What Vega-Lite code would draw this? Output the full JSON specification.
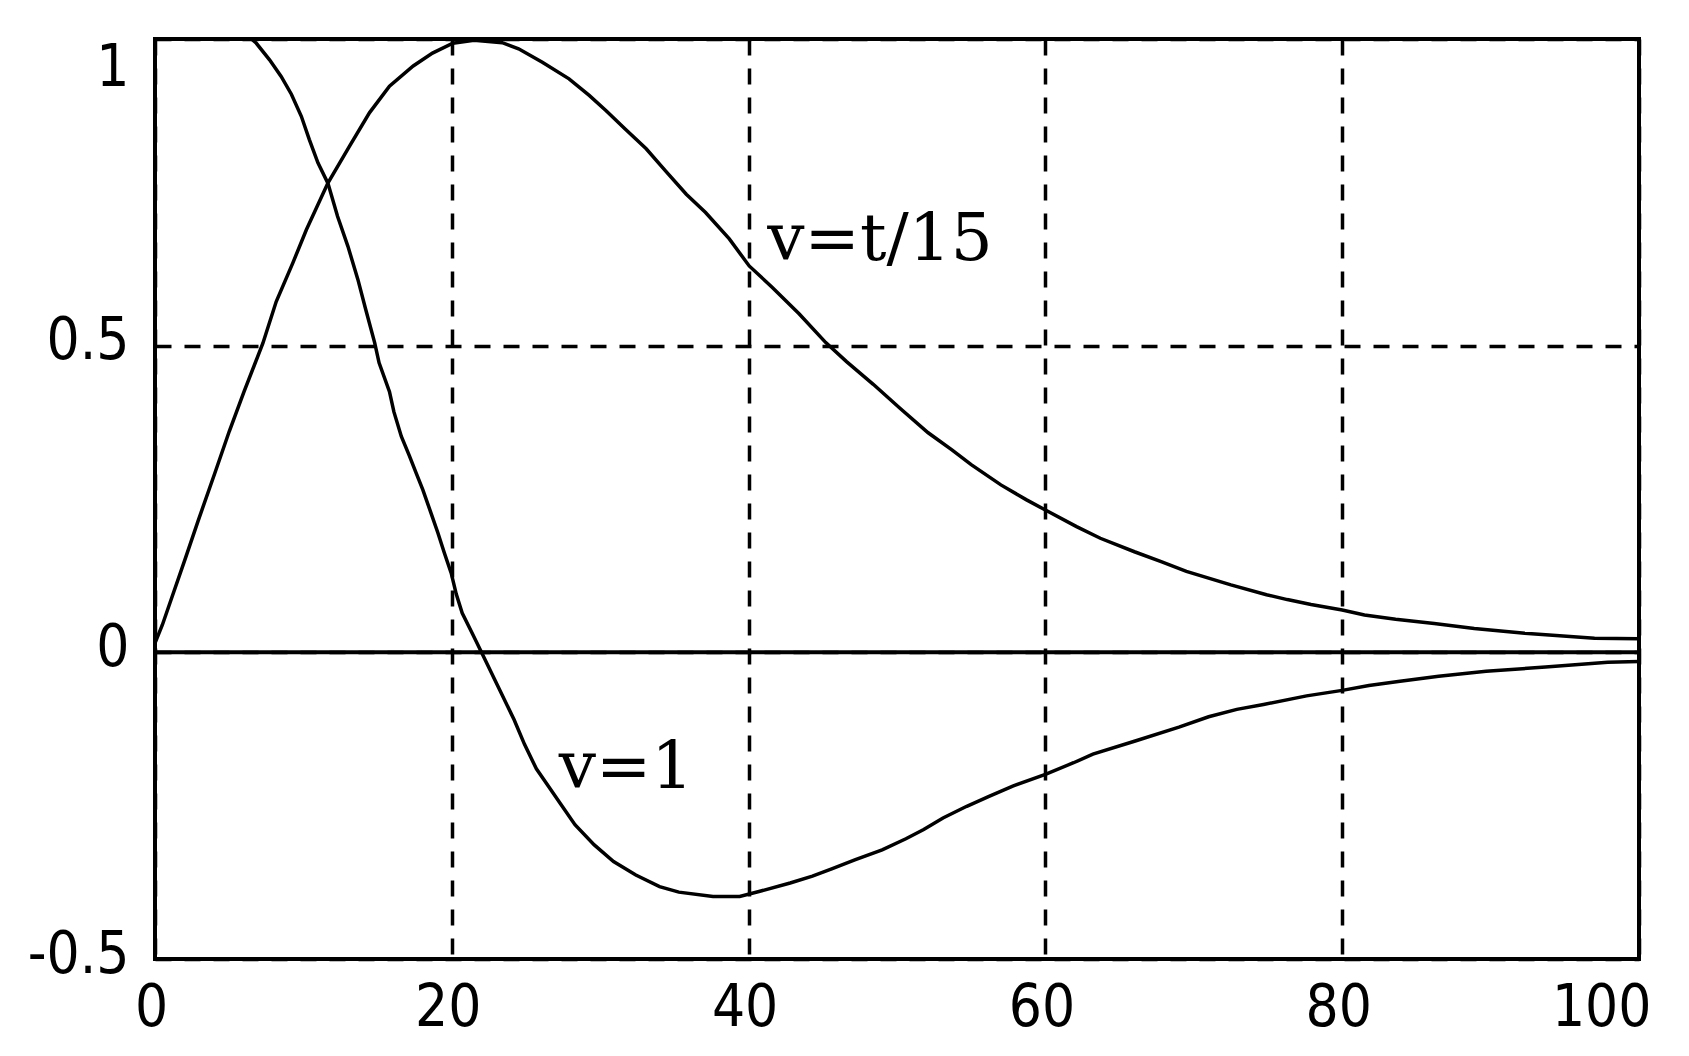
{
  "$schema": "https://vega.github.io/schema/vega-lite/v6.json",
  "width": 1484,
  "height": 920,
  "autosize": {"type": "none"},
  "padding": {"left": 155, "top": 39, "right": 50, "bottom": 97},
  "background": "white",
  "config": {
    "view": {"stroke": "black", "strokeWidth": 4},
    "axis": {
      "domain": false,
      "ticks": false,
      "grid": true,
      "gridColor": "black",
      "gridOpacity": 1,
      "gridWidth": 3.5,
      "gridDash": [16, 13],
      "labelFont": "Liberation Sans Narrow, DejaVu Sans Condensed, Liberation Sans",
      "labelFontSize": 58,
      "labelColor": "black",
      "labelExpr": "'' + datum.value",
      "title": null
    }
  },
  "datasets": {
    "curves": [
      {"series": "v=t/15", "t": 0, "v": 0.015},
      {"series": "v=t/15", "t": 0.5, "v": 0.045},
      {"series": "v=t/15", "t": 1, "v": 0.08},
      {"series": "v=t/15", "t": 2, "v": 0.15},
      {"series": "v=t/15", "t": 2.9, "v": 0.214},
      {"series": "v=t/15", "t": 4, "v": 0.29},
      {"series": "v=t/15", "t": 5, "v": 0.36},
      {"series": "v=t/15", "t": 6, "v": 0.425},
      {"series": "v=t/15", "t": 7.27, "v": 0.504},
      {"series": "v=t/15", "t": 8.17, "v": 0.572},
      {"series": "v=t/15", "t": 9.29, "v": 0.635},
      {"series": "v=t/15", "t": 10.2, "v": 0.689},
      {"series": "v=t/15", "t": 11.65, "v": 0.765},
      {"series": "v=t/15", "t": 13.1, "v": 0.825},
      {"series": "v=t/15", "t": 14.46, "v": 0.88},
      {"series": "v=t/15", "t": 15.8, "v": 0.923},
      {"series": "v=t/15", "t": 17.4, "v": 0.956},
      {"series": "v=t/15", "t": 18.7, "v": 0.977},
      {"series": "v=t/15", "t": 20.07, "v": 0.993},
      {"series": "v=t/15", "t": 21.5, "v": 0.998},
      {"series": "v=t/15", "t": 23.4, "v": 0.994},
      {"series": "v=t/15", "t": 24.5, "v": 0.984},
      {"series": "v=t/15", "t": 26.1, "v": 0.962},
      {"series": "v=t/15", "t": 27.9, "v": 0.935},
      {"series": "v=t/15", "t": 29.26, "v": 0.908},
      {"series": "v=t/15", "t": 30.4, "v": 0.883},
      {"series": "v=t/15", "t": 31.7, "v": 0.853},
      {"series": "v=t/15", "t": 33.1, "v": 0.821},
      {"series": "v=t/15", "t": 34.4, "v": 0.785},
      {"series": "v=t/15", "t": 35.8, "v": 0.747},
      {"series": "v=t/15", "t": 37.1, "v": 0.717},
      {"series": "v=t/15", "t": 38.7, "v": 0.674},
      {"series": "v=t/15", "t": 40.04, "v": 0.63},
      {"series": "v=t/15", "t": 41.6, "v": 0.595},
      {"series": "v=t/15", "t": 43.4, "v": 0.552},
      {"series": "v=t/15", "t": 45.2, "v": 0.505},
      {"series": "v=t/15", "t": 46.6, "v": 0.474},
      {"series": "v=t/15", "t": 48.4, "v": 0.437},
      {"series": "v=t/15", "t": 50.2, "v": 0.398},
      {"series": "v=t/15", "t": 52.1, "v": 0.358},
      {"series": "v=t/15", "t": 53.7, "v": 0.33},
      {"series": "v=t/15", "t": 55.0, "v": 0.306},
      {"series": "v=t/15", "t": 57.0, "v": 0.273},
      {"series": "v=t/15", "t": 58.7, "v": 0.249},
      {"series": "v=t/15", "t": 60, "v": 0.232},
      {"series": "v=t/15", "t": 62.1, "v": 0.205},
      {"series": "v=t/15", "t": 63.7, "v": 0.186},
      {"series": "v=t/15", "t": 66, "v": 0.164},
      {"series": "v=t/15", "t": 67.8, "v": 0.148},
      {"series": "v=t/15", "t": 69.5, "v": 0.132},
      {"series": "v=t/15", "t": 72.5, "v": 0.11},
      {"series": "v=t/15", "t": 74.9, "v": 0.094},
      {"series": "v=t/15", "t": 76.3, "v": 0.086},
      {"series": "v=t/15", "t": 77.9, "v": 0.078},
      {"series": "v=t/15", "t": 80, "v": 0.069},
      {"series": "v=t/15", "t": 81.5, "v": 0.061},
      {"series": "v=t/15", "t": 83.6, "v": 0.054},
      {"series": "v=t/15", "t": 86.2, "v": 0.047},
      {"series": "v=t/15", "t": 88.9, "v": 0.039},
      {"series": "v=t/15", "t": 92.3, "v": 0.031},
      {"series": "v=t/15", "t": 97, "v": 0.023},
      {"series": "v=t/15", "t": 100, "v": 0.022},
      {"series": "v=1", "t": 6.5, "v": 1.0},
      {"series": "v=1", "t": 6.83, "v": 0.993},
      {"series": "v=1", "t": 7.72, "v": 0.966},
      {"series": "v=1", "t": 8.5, "v": 0.939},
      {"series": "v=1", "t": 9.19, "v": 0.91},
      {"series": "v=1", "t": 9.86, "v": 0.874},
      {"series": "v=1", "t": 10.4, "v": 0.836},
      {"series": "v=1", "t": 10.98, "v": 0.798},
      {"series": "v=1", "t": 11.65, "v": 0.765},
      {"series": "v=1", "t": 12.3, "v": 0.711},
      {"series": "v=1", "t": 13.0, "v": 0.662},
      {"series": "v=1", "t": 13.67, "v": 0.608},
      {"series": "v=1", "t": 14.2, "v": 0.559},
      {"series": "v=1", "t": 14.8, "v": 0.505},
      {"series": "v=1", "t": 15.1, "v": 0.472},
      {"series": "v=1", "t": 15.8, "v": 0.425},
      {"series": "v=1", "t": 16.1, "v": 0.392},
      {"series": "v=1", "t": 16.6, "v": 0.352},
      {"series": "v=1", "t": 17.15, "v": 0.32},
      {"series": "v=1", "t": 17.6, "v": 0.292},
      {"series": "v=1", "t": 18.05, "v": 0.265},
      {"series": "v=1", "t": 18.6, "v": 0.227},
      {"series": "v=1", "t": 19.06, "v": 0.195},
      {"series": "v=1", "t": 19.5, "v": 0.162},
      {"series": "v=1", "t": 19.96, "v": 0.129},
      {"series": "v=1", "t": 20.3, "v": 0.095},
      {"series": "v=1", "t": 20.7, "v": 0.064},
      {"series": "v=1", "t": 21.4, "v": 0.03},
      {"series": "v=1", "t": 22.0, "v": 0.0},
      {"series": "v=1", "t": 23.1, "v": -0.055},
      {"series": "v=1", "t": 24.2, "v": -0.11},
      {"series": "v=1", "t": 24.9, "v": -0.15},
      {"series": "v=1", "t": 25.7, "v": -0.19},
      {"series": "v=1", "t": 26.5, "v": -0.218},
      {"series": "v=1", "t": 27.3, "v": -0.246},
      {"series": "v=1", "t": 28.3, "v": -0.281},
      {"series": "v=1", "t": 29.6, "v": -0.314},
      {"series": "v=1", "t": 30.9, "v": -0.341},
      {"series": "v=1", "t": 32.4, "v": -0.363},
      {"series": "v=1", "t": 34.0, "v": -0.382},
      {"series": "v=1", "t": 35.3, "v": -0.391},
      {"series": "v=1", "t": 37.6, "v": -0.398},
      {"series": "v=1", "t": 39.4, "v": -0.398},
      {"series": "v=1", "t": 40.7, "v": -0.39},
      {"series": "v=1", "t": 42.8, "v": -0.376},
      {"series": "v=1", "t": 44.3, "v": -0.365},
      {"series": "v=1", "t": 45.6, "v": -0.353},
      {"series": "v=1", "t": 47.2, "v": -0.338},
      {"series": "v=1", "t": 49.0, "v": -0.322},
      {"series": "v=1", "t": 50.6, "v": -0.304},
      {"series": "v=1", "t": 51.8, "v": -0.289},
      {"series": "v=1", "t": 53.1, "v": -0.27},
      {"series": "v=1", "t": 54.7, "v": -0.251},
      {"series": "v=1", "t": 56.2, "v": -0.235},
      {"series": "v=1", "t": 57.8, "v": -0.218},
      {"series": "v=1", "t": 60, "v": -0.199},
      {"series": "v=1", "t": 61.9, "v": -0.18},
      {"series": "v=1", "t": 63.2, "v": -0.166},
      {"series": "v=1", "t": 66, "v": -0.145},
      {"series": "v=1", "t": 69, "v": -0.122},
      {"series": "v=1", "t": 71, "v": -0.105},
      {"series": "v=1", "t": 72.9, "v": -0.093},
      {"series": "v=1", "t": 74.7, "v": -0.085},
      {"series": "v=1", "t": 77.6, "v": -0.071},
      {"series": "v=1", "t": 80, "v": -0.062},
      {"series": "v=1", "t": 81.8, "v": -0.054},
      {"series": "v=1", "t": 83.9, "v": -0.047},
      {"series": "v=1", "t": 86.5, "v": -0.039},
      {"series": "v=1", "t": 89.7, "v": -0.031},
      {"series": "v=1", "t": 93.7, "v": -0.024},
      {"series": "v=1", "t": 97.9, "v": -0.016},
      {"series": "v=1", "t": 100, "v": -0.015}
    ],
    "labels": [
      {"t": 41.26, "v": 0.64, "label": "v=t/15"},
      {"t": 27.2, "v": -0.222, "label": "v=1"}
    ]
  },
  "layer": [
    {
      "data": {"name": "curves"},
      "mark": {"type": "line", "color": "black", "strokeWidth": 3.5, "clip": true},
      "encoding": {
        "x": {
          "field": "t",
          "type": "quantitative",
          "scale": {"domain": [0, 100], "nice": false, "zero": false},
          "axis": {
            "values": [0, 20, 40, 60, 80, 100],
            "labelPadding": 20,
            "labelAlign": {"condition": {"test": "datum.value == 100", "value": "right"}, "value": "center"},
            "labelOffset": {"condition": {"test": "datum.value == 100", "value": 12}, "value": -4}
          }
        },
        "y": {
          "field": "v",
          "type": "quantitative",
          "scale": {"domain": [-0.5, 1], "nice": false, "zero": false},
          "axis": {
            "values": [-0.5, 0, 0.5, 1],
            "labelPadding": 26,
            "labelBaseline": {"condition": {"test": "datum.value == 1", "value": "top"}, "value": "middle"},
            "labelOffset": {"condition": {"test": "datum.value == 1", "value": 0}, "value": -4}
          }
        },
        "detail": {"field": "series", "type": "nominal"}
      }
    },
    {
      "data": {"values": [{"v": 0}]},
      "mark": {"type": "rule", "color": "black", "strokeWidth": 4},
      "encoding": {"y": {"field": "v", "type": "quantitative"}}
    },
    {
      "data": {"name": "labels"},
      "mark": {"type": "text", "font": "DejaVu Serif", "fontSize": 66, "align": "left", "baseline": "alphabetic", "color": "black"},
      "encoding": {
        "x": {"field": "t", "type": "quantitative"},
        "y": {"field": "v", "type": "quantitative"},
        "text": {"field": "label"}
      }
    }
  ]
}
